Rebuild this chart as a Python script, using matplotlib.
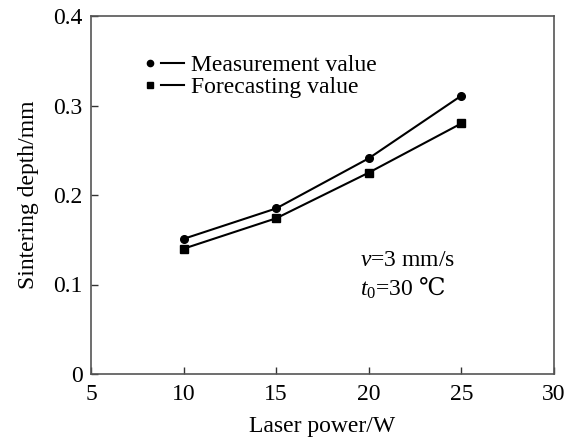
import matplotlib
matplotlib.use("Agg")
import matplotlib.pyplot as plt
from matplotlib.lines import Line2D
from matplotlib.legend_handler import HandlerTuple

plt.rcParams['font.family'] = ['Liberation Serif', 'DejaVu Serif']
plt.rcParams['mathtext.fontset'] = 'custom'
plt.rcParams['mathtext.rm'] = 'Liberation Serif'
plt.rcParams['mathtext.it'] = 'Liberation Serif:italic'
plt.rcParams['mathtext.sf'] = 'DejaVu Serif'  # only used for the degree-C sign

# data
power = [10, 15, 20, 25]
measured = [0.151, 0.185, 0.241, 0.311]
forecast = [0.140, 0.174, 0.225, 0.280]

fig = plt.figure(figsize=(5.78, 4.37), dpi=100)
ax = fig.add_axes([91/578, 1 - 374/437, (554-91)/578, (374-16)/437])

ax.plot(power, measured, color='black', lw=1.5, marker='o', ms=5.5)
ax.plot(power, forecast, color='black', lw=1.5, marker='s', ms=5.5)

ax.set_xlim(5, 30)
ax.set_ylim(0, 0.4)
ax.set_xticks([5, 10, 15, 20, 25, 30])
ax.set_yticks([0, 0.1, 0.2, 0.3, 0.4])
ax.set_yticklabels(['0', '0.1', '0.2', '0.3', '0.4'])
ax.tick_params(direction='in', length=5, width=1, labelsize=17, colors='#333333',
               labelcolor='black')
ax.tick_params(axis='x', pad=7)
ax.tick_params(axis='y', pad=6)
for s in ax.spines.values():
    s.set_color('#555555')
    s.set_linewidth(1.2)

ax.set_xlabel('Laser power/W', fontsize=17, labelpad=8)
ax.set_ylabel('Sintering depth/mm', fontsize=17, labelpad=10)

h1 = (Line2D([], [], color='black', marker='o', ms=4.5, ls='none'),
      Line2D([], [], color='black', lw=1.5))
h2 = (Line2D([], [], color='black', marker='s', ms=4.5, ls='none'),
      Line2D([], [], color='black', lw=1.5))
ax.legend([h1, h2], ['Measurement value', 'Forecasting value'],
          handler_map={tuple: HandlerTuple(ndivide=None, pad=0)},
          loc='upper left', bbox_to_anchor=(0.083, 0.918), frameon=False,
          fontsize=17, handlelength=1.9, handletextpad=0.3, labelspacing=0.0,
          borderaxespad=0)

ax.text(0.58, 0.275, '$v$=3 mm/s\n$t_0$=30 $\\mathsf{\u2103}$', transform=ax.transAxes,
        fontsize=17, linespacing=1.2, va='center')

fig.savefig('out.png', dpi=100)
